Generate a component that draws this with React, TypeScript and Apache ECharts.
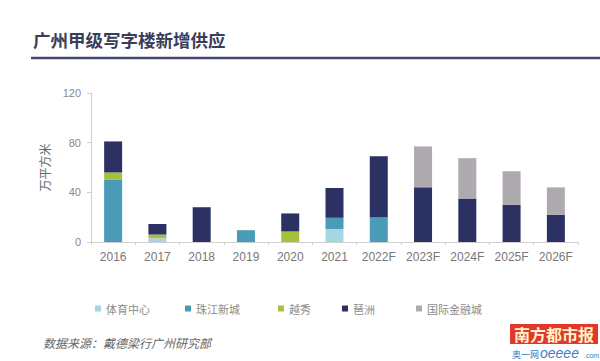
import React, { useEffect, useRef } from "react";
import * as echarts from "echarts";

const categories = ["2016", "2017", "2018", "2019", "2020", "2021", "2022F", "2023F", "2024F", "2025F", "2026F"];
const seriesNames = ["体育中心", "珠江新城", "越秀", "琶洲", "国际金融城"];
const tiyu = [0, 3, 0, 0, 0, 10.5, 0, 0, 0, 0, 0];
const zhujiang = [50, 0, 0, 9.5, 0, 9, 20, 0, 0, 0, 0];
const yuexiu = [6, 3, 0, 0, 8.5, 0, 0, 0, 0, 0, 0];
const pazhou = [25, 8.5, 28, 0, 14.5, 24, 49, 44, 35, 30, 22];
const ifc = [0, 0, 0, 0, 0, 0, 0, 33, 32.5, 27, 22];
const yTicks = { min: 0, max: 120, interval: 40 };

const colors = ["#a8d5e2", "#4a9bb8", "#a6c13c", "#2b3263", "#aeaab0"];
const legendLefts = [90, 180, 273, 337, 411];

const CJK = "'Noto Sans CJK SC', 'Liberation Sans', sans-serif";
const NUM = "'Liberation Sans', Arial, sans-serif";

export default function App() {
  const ref = useRef<HTMLDivElement>(null);
  useEffect(() => {
    if (!ref.current) return;
    const chart = echarts.init(ref.current, null, { renderer: "svg" });
    const data = [tiyu, zhujiang, yuexiu, pazhou, ifc];
    chart.setOption({
      animation: false,
      backgroundColor: "#ffffff",
      grid: { left: 91, right: 22, top: 93, bottom: 119 },
      legend: seriesNames.map((n, i) => ({
        data: [n],
        left: legendLefts[i],
        top: 298,
        itemWidth: 6,
        itemHeight: 6,
        icon: "rect",
        textStyle: { color: "#8c8c8c", fontSize: 11, fontFamily: CJK },
      })),
      xAxis: {
        type: "category",
        data: categories,
        axisLine: { lineStyle: { color: "#cfcfcf", width: 1 } },
        axisTick: { show: true, length: 3, lineStyle: { color: "#cfcfcf" } },
        axisLabel: { color: "#777", fontSize: 12, fontFamily: NUM, margin: 9 },
      },
      yAxis: {
        type: "value",
        min: yTicks.min,
        max: yTicks.max,
        interval: yTicks.interval,
        name: "万平方米",
        nameLocation: "middle",
        nameGap: 41,
        nameRotate: 90,
        nameTextStyle: { color: "#666", fontSize: 12, fontFamily: CJK },
        splitLine: { show: false },
        axisLine: { show: true, lineStyle: { color: "#cfcfcf", width: 1 } },
        axisTick: { show: true, length: 4, lineStyle: { color: "#cfcfcf" } },
        axisLabel: { color: "#888", fontSize: 11, fontFamily: NUM, margin: 10 },
      },
      series: seriesNames.map((n, i) => ({
        name: n,
        type: "bar",
        stack: "total",
        barWidth: 18,
        data: data[i],
        itemStyle: { color: colors[i] },
      })),
      graphic: [
        {
          type: "text",
          left: 33,
          top: 31,
          style: {
            text: "广州甲级写字楼新增供应",
            fill: "#3a3e5a",
            font: `bold 17.5px ${CJK}`,
          },
        },
        {
          type: "line",
          shape: { x1: 31, y1: 58, x2: 600, y2: 58 },
          style: { stroke: "#454a6b", lineWidth: 2.5 },
        },
        {
          type: "text",
          left: 43,
          top: 336,
          style: {
            text: "数据来源：戴德梁行广州研究部",
            fill: "#666",
            font: `italic 12px ${CJK}`,
          },
        },
        {
          type: "rect",
          shape: { x: 510, y: 324, width: 88, height: 20 },
          style: { fill: "#e0382c" },
        },
        {
          type: "text",
          x: 554,
          y: 334,
          style: {
            text: "南方都市报",
            fill: "#fff2c8",
            font: `bold 16px ${CJK}`,
            align: "center",
            verticalAlign: "middle",
          },
        },
        {
          type: "text",
          x: 512,
          y: 354,
          style: {
            text: "奥一网",
            fill: "#3a7cc4",
            font: `9px ${CJK}`,
            verticalAlign: "middle",
          },
        },
        {
          type: "text",
          x: 540,
          y: 353,
          style: {
            text: "oeeee",
            fill: "#3a7cc4",
            font: `italic 14px ${NUM}`,
            verticalAlign: "middle",
          },
        },
        {
          type: "text",
          x: 584,
          y: 355,
          style: {
            text: ".com",
            fill: "#3a7cc4",
            font: `7px ${NUM}`,
            verticalAlign: "middle",
          },
        },
      ],
    });
    return () => chart.dispose();
  }, []);
  return (
    <div
      ref={ref}
      style={{ position: "fixed", left: 0, top: 0, width: 600, height: 361 }}
    />
  );
}
